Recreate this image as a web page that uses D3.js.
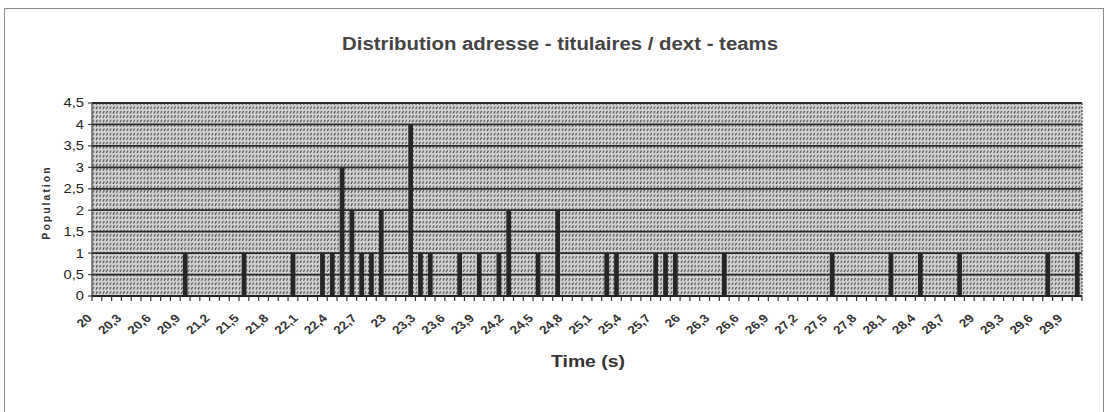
<!DOCTYPE html>
<html>
<head>
<meta charset="utf-8">
<script src="https://cdn.jsdelivr.net/npm/d3@7"></script>
<style>
  html, body { margin: 0; padding: 0; background: #fff; }
  svg { display: block; font-family: "Liberation Sans", Arial, sans-serif; }
</style>
</head>
<body>
<svg id="chart" width="1108" height="412"></svg>
<script>
// Time categories (s), one per 0.1 s
const times = [
  20.0, 20.1, 20.2, 20.3, 20.4, 20.5, 20.6, 20.7, 20.8, 20.9,
  21.0, 21.1, 21.2, 21.3, 21.4, 21.5, 21.6, 21.7, 21.8, 21.9,
  22.0, 22.1, 22.2, 22.3, 22.4, 22.5, 22.6, 22.7, 22.8, 22.9,
  23.0, 23.1, 23.2, 23.3, 23.4, 23.5, 23.6, 23.7, 23.8, 23.9,
  24.0, 24.1, 24.2, 24.3, 24.4, 24.5, 24.6, 24.7, 24.8, 24.9,
  25.0, 25.1, 25.2, 25.3, 25.4, 25.5, 25.6, 25.7, 25.8, 25.9,
  26.0, 26.1, 26.2, 26.3, 26.4, 26.5, 26.6, 26.7, 26.8, 26.9,
  27.0, 27.1, 27.2, 27.3, 27.4, 27.5, 27.6, 27.7, 27.8, 27.9,
  28.0, 28.1, 28.2, 28.3, 28.4, 28.5, 28.6, 28.7, 28.8, 28.9,
  29.0, 29.1, 29.2, 29.3, 29.4, 29.5, 29.6, 29.7, 29.8, 29.9,
  30.0
];

// Population counted in each time slot
const population = [
  0, 0, 0, 0, 0, 0, 0, 0, 0, 1,
  0, 0, 0, 0, 0, 1, 0, 0, 0, 0,
  1, 0, 0, 1, 1, 3, 2, 1, 1, 2,
  0, 0, 4, 1, 1, 0, 0, 1, 0, 1,
  0, 1, 2, 0, 0, 1, 0, 2, 0, 0,
  0, 0, 1, 1, 0, 0, 0, 1, 1, 1,
  0, 0, 0, 0, 1, 0, 0, 0, 0, 0,
  0, 0, 0, 0, 0, 1, 0, 0, 0, 0,
  0, 1, 0, 0, 1, 0, 0, 0, 1, 0,
  0, 0, 0, 0, 0, 0, 0, 1, 0, 0,
  1
];

// Labelled categories on the time axis
const xTicks = [20.0, 20.3, 20.6, 20.9, 21.2, 21.5, 21.8, 22.1, 22.4, 22.7,
  23.0, 23.3, 23.6, 23.9, 24.2, 24.5, 24.8, 25.1, 25.4, 25.7,
  26.0, 26.3, 26.6, 26.9, 27.2, 27.5, 27.8, 28.1, 28.4, 28.7,
  29.0, 29.3, 29.6, 29.9];
const xTickLabels = ["20", "20,3", "20,6", "20,9", "21,2", "21,5", "21,8", "22,1", "22,4", "22,7",
  "23", "23,3", "23,6", "23,9", "24,2", "24,5", "24,8", "25,1", "25,4", "25,7",
  "26", "26,3", "26,6", "26,9", "27,2", "27,5", "27,8", "28,1", "28,4", "28,7",
  "29", "29,3", "29,6", "29,9"];

// Population axis
const yTicks = [0, 0.5, 1, 1.5, 2, 2.5, 3, 3.5, 4, 4.5];
const yTickLabels = ["0", "0,5", "1", "1,5", "2", "2,5", "3", "3,5", "4", "4,5"];

const svg = d3.select("#chart");
const plot = { left: 92, right: 1082, top: 103, bottom: 296 };
const stretch = 1.18; // wide lettering of the printed chart

// Stippled plot-area fill
const defs = svg.append("defs");
const pat = defs.append("pattern")
  .attr("id", "stipple")
  .attr("patternUnits", "userSpaceOnUse")
  .attr("width", 3.4).attr("height", 4.4);
pat.append("rect").attr("width", 3.4).attr("height", 4.4).attr("fill", "#d4d4d4");
pat.append("line")
  .attr("x1", 0.9).attr("y1", 3.6).attr("x2", 2.2).attr("y2", 0.8)
  .attr("stroke", "#3e3e3e").attr("stroke-width", 1.1);

// Outer frame
svg.append("rect")
  .attr("x", 4.5).attr("y", 8.5).attr("width", 1099).attr("height", 420)
  .attr("fill", "none").attr("stroke", "#8a8a8a").attr("stroke-width", 1);

const x = d3.scaleBand().domain(times).range([plot.left, plot.right]).padding(0);
const y = d3.scaleLinear().domain([0, 4.5]).range([plot.bottom, plot.top]);

// Plot area
svg.append("rect")
  .attr("x", plot.left).attr("y", plot.top)
  .attr("width", plot.right - plot.left).attr("height", plot.bottom - plot.top)
  .attr("fill", "url(#stipple)");

// Horizontal gridlines
svg.append("g").selectAll("line")
  .data(yTicks.filter(d => d > 0))
  .join("line")
  .attr("x1", plot.left).attr("x2", plot.right)
  .attr("y1", d => y(d)).attr("y2", d => y(d))
  .attr("stroke", "#2a2a2a").attr("stroke-width", 1.8);

// Right edge of the plot area
svg.append("line")
  .attr("x1", plot.right).attr("x2", plot.right)
  .attr("y1", plot.top).attr("y2", plot.bottom)
  .attr("stroke", "#555").attr("stroke-width", 1.5)
  .attr("stroke-dasharray", "2,1.5");

// Columns
const bw = x.bandwidth();
svg.append("g").selectAll("rect")
  .data(times.map((t, i) => ({ t, v: population[i] })).filter(d => d.v > 0))
  .join("rect")
  .attr("x", d => x(d.t) + bw * 0.27)
  .attr("width", bw * 0.48)
  .attr("y", d => y(d.v))
  .attr("height", d => y(0) - y(d.v))
  .attr("fill", "#262626");

// Value axis
const yAxis = svg.append("g");
yAxis.append("line")
  .attr("x1", plot.left).attr("x2", plot.left)
  .attr("y1", plot.top).attr("y2", plot.bottom)
  .attr("stroke", "#444").attr("stroke-width", 1.2);
yAxis.selectAll("line.tick")
  .data(yTicks)
  .join("line").attr("class", "tick")
  .attr("x1", plot.left - 4).attr("x2", plot.left)
  .attr("y1", d => y(d)).attr("y2", d => y(d))
  .attr("stroke", "#444").attr("stroke-width", 1.2);
yAxis.selectAll("text")
  .data(yTicks)
  .join("text")
  .attr("transform", d => `translate(${plot.left - 8},${y(d) + 4.4}) scale(${stretch},1)`)
  .attr("text-anchor", "end")
  .attr("font-size", 12.5)
  .attr("fill", "#222")
  .text((d, i) => yTickLabels[i]);

// Category axis
const xAxis = svg.append("g");
xAxis.append("line")
  .attr("x1", plot.left).attr("x2", plot.right)
  .attr("y1", plot.bottom).attr("y2", plot.bottom)
  .attr("stroke", "#222").attr("stroke-width", 1.8);
xAxis.selectAll("line.tick")
  .data(times.map(t => x(t)).concat([x(times[times.length - 1]) + bw]))
  .join("line").attr("class", "tick")
  .attr("x1", d => d).attr("x2", d => d)
  .attr("y1", plot.bottom).attr("y2", plot.bottom + 5)
  .attr("stroke", "#333").attr("stroke-width", 1.2);
xAxis.selectAll("text")
  .data(xTicks)
  .join("text")
  .attr("transform", d => `translate(${x(d) + bw / 2 - 4},${plot.bottom + 23}) scale(${stretch},1) rotate(-45)`)
  .attr("text-anchor", "end")
  .attr("font-size", 11.5)
  .attr("font-weight", "bold")
  .attr("fill", "#333")
  .text((d, i) => xTickLabels[i]);

// Titles
svg.append("text")
  .attr("x", 560).attr("y", 50)
  .attr("text-anchor", "middle")
  .attr("font-size", 17.5).attr("font-weight", "bold")
  .attr("fill", "#444")
  .attr("textLength", 436).attr("lengthAdjust", "spacingAndGlyphs")
  .text("Distribution adresse - titulaires / dext - teams");

svg.append("text")
  .attr("x", 588).attr("y", 367)
  .attr("text-anchor", "middle")
  .attr("font-size", 17).attr("font-weight", "bold")
  .attr("fill", "#333")
  .attr("textLength", 74).attr("lengthAdjust", "spacingAndGlyphs")
  .text("Time (s)");

svg.append("text")
  .attr("transform", `translate(50,${(plot.top + plot.bottom) / 2 + 3}) rotate(-90)`)
  .attr("text-anchor", "middle")
  .attr("font-size", 10.5).attr("font-weight", "bold")
  .attr("letter-spacing", 2)
  .attr("fill", "#333")
  .text("Population");
</script>
</body>
</html>
